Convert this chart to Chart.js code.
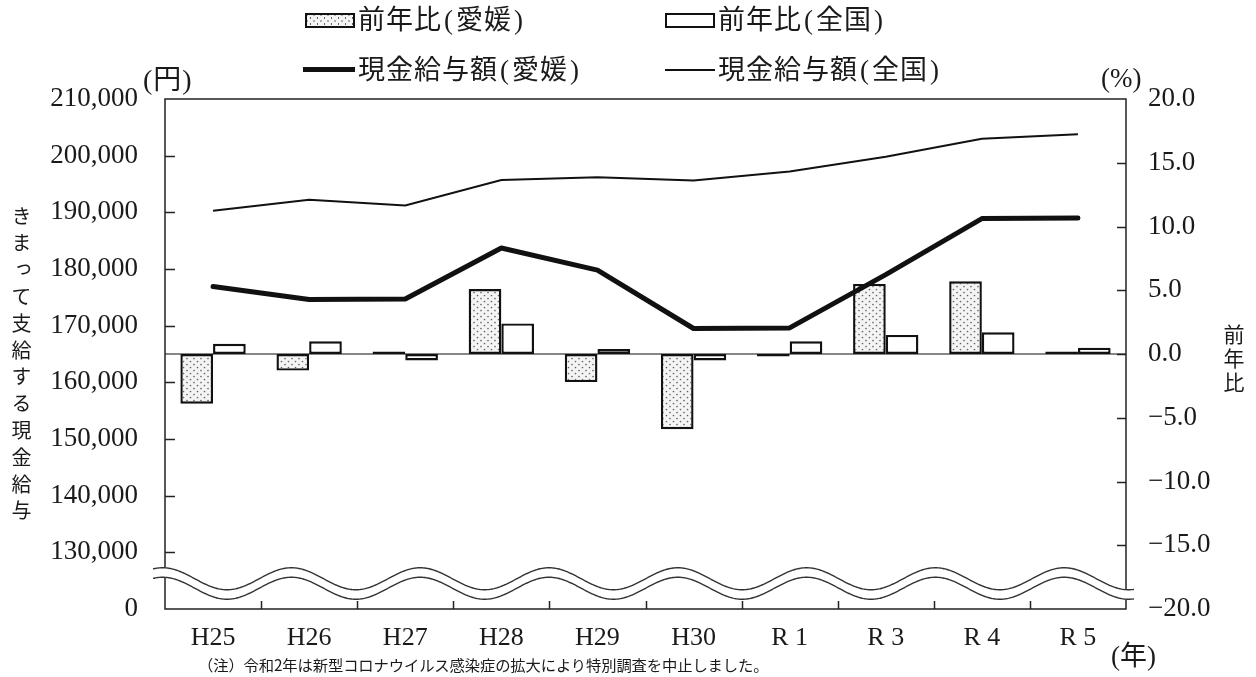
<!DOCTYPE html>
<html lang="ja">
<head>
<meta charset="utf-8">
<title>きまって支給する現金給与と前年比</title>
<script src="https://cdn.jsdelivr.net/npm/chart.js@4/dist/chart.umd.min.js"></script>
<style>
  html, body { margin: 0; padding: 0; background: #fff; }
  #wrap { position: relative; width: 1256px; height: 677px; overflow: hidden; }
  #chart { position: absolute; left: 0; top: 0; }
  .t {
    position: absolute; color: #1a1a1a; white-space: nowrap; line-height: 1;
    font-family: "Liberation Serif", "Noto Sans CJK JP", serif;
  }
  .lg { font-size: 27px; letter-spacing: 1px; }
  .lg .p { padding: 0 2px; }
  .sw { position: absolute; box-sizing: border-box; }
  .sw-dots {
    border: 2.5px solid #111;
    background-color: #f4f4f4;
    background-image: radial-gradient(circle, #666 0.9px, transparent 1.1px),
                      radial-gradient(circle, #666 0.9px, transparent 1.1px);
    background-size: 7px 6px, 7px 6px;
    background-position: 0 0, 3.5px 3px;
  }
  .sw-open { border: 2.5px solid #111; background: #fff; }
  .sw-line { background: #111; }
  .vt {
    position: absolute; writing-mode: vertical-rl; text-orientation: upright;
    font-family: "Noto Sans CJK JP", sans-serif; color: #1a1a1a; line-height: 1;
  }
  .note {
    position: absolute; font-family: "Noto Sans CJK JP", sans-serif; color: #1a1a1a;
    font-size: 15.3px; line-height: 1; white-space: nowrap; letter-spacing: -0.1px;
  }
</style>
</head>
<body>
<div id="wrap">
  <canvas id="chart" width="1256" height="677"></canvas>

  <!-- legend -->
  <div class="sw sw-dots" style="left:305px; top:13px; width:50px; height:15px;"></div>
  <div class="t lg" style="left:358px; top:7px;">前年比<span class="p">(</span>愛媛<span class="p">)</span></div>
  <div class="sw sw-open" style="left:665px; top:13px; width:50px; height:15px;"></div>
  <div class="t lg" style="left:718px; top:7px;">前年比<span class="p">(</span>全国<span class="p">)</span></div>
  <div class="sw sw-line" style="left:303px; top:67px; width:52px; height:5px;"></div>
  <div class="t lg" style="left:358px; top:57px;">現金給与額<span class="p">(</span>愛媛<span class="p">)</span></div>
  <div class="sw sw-line" style="left:665px; top:69px; width:50px; height:2px;"></div>
  <div class="t lg" style="left:718px; top:57px;">現金給与額<span class="p">(</span>全国<span class="p">)</span></div>

  <!-- axis units -->
  <div class="t" style="left:143px; top:66px; font-size:28px; letter-spacing:1px;">(円)</div>
  <div class="t" style="left:1101px; top:65px; font-size:27px;">(%)</div>
  <div class="t" style="left:1111px; top:643px; font-size:27px;">(年)</div>

  <!-- axis titles -->
  <div class="vt" style="left:11px; top:206px; font-size:20px; letter-spacing:6.8px;">きまって支給する現金給与</div>
  <div class="vt" style="left:1223px; top:324px; font-size:21px; letter-spacing:3px;">前年比</div>

  <div class="note" style="left:198px; top:657px;">（注）令和2年は新型コロナウイルス感染症の拡大により特別調査を中止しました。</div>
</div>

<script>
// Survey years (Heisei / Reiwa); R2 was not surveyed
const categories = ['H25', 'H26', 'H27', 'H28', 'H29', 'H30', 'R 1', 'R 3', 'R 4', 'R 5'];

// Regular monthly cash earnings (yen)
const wageEhime    = [176900, 174600, 174700, 183700, 179800, 169500, 169600, 179000, 188900, 189000];
const wageNational = [190300, 192200, 191200, 195700, 196200, 195600, 197200, 199800, 203000, 203800];

// Year-on-year change (%)
const yoyEhime    = [-3.9, -1.3, 0.2, 5.1, -2.2, -5.9, -0.1, 5.5, 5.7, 0.2];
const yoyNational = [0.8, 1.0, -0.5, 2.4, 0.4, -0.5, 1.0, 1.5, 1.7, 0.5];

// Axis ranges and steps
const wageMin = 120000, wageMax = 210000, wageStep = 10000;
const yoyMin = -20, yoyMax = 20, yoyStep = 5;
// the lowest wage gridline is shown as 0 below the axis break
const wageBreakValue = 124500;

const TEXT = '#1a1a1a';
const INK = '#111';
const tickFont = { family: "'Liberation Serif', serif", size: 27 };

function dotPattern() {
  const c = document.createElement('canvas');
  c.width = 7; c.height = 6;
  const g = c.getContext('2d');
  g.fillStyle = '#f4f4f4';
  g.fillRect(0, 0, 7, 6);
  g.fillStyle = '#666';
  g.beginPath(); g.arc(1.5, 1.5, 0.85, 0, Math.PI * 2); g.fill();
  g.beginPath(); g.arc(5.0, 4.5, 0.85, 0, Math.PI * 2); g.fill();
  return g.createPattern(c, 'repeat');
}

const ctx = document.getElementById('chart').getContext('2d');

// frame, inward tick marks, zero line and the wavy axis break
const chartDecor = {
  id: 'chartDecor',
  beforeDatasetsDraw(chart) {
    const { ctx, chartArea: a, scales } = chart;
    const y0 = scales.yR.getPixelForValue(0);
    ctx.save();
    ctx.strokeStyle = INK;
    ctx.lineWidth = 1.2;
    ctx.beginPath();
    ctx.moveTo(a.left, y0);
    ctx.lineTo(a.right, y0);
    ctx.stroke();
    ctx.restore();
  },
  afterDatasetsDraw(chart) {
    const { ctx, chartArea: a, scales } = chart;
    ctx.save();
    ctx.strokeStyle = '#222';
    ctx.lineWidth = 1.5;
    ctx.strokeRect(a.left, a.top, a.right - a.left, a.bottom - a.top);

    ctx.beginPath();
    for (let v = wageMin + wageStep; v < wageMax; v += wageStep) {
      const y = Math.round(scales.yL.getPixelForValue(v)) + 0.5;
      ctx.moveTo(a.left, y); ctx.lineTo(a.left + 10, y);
    }
    for (let v = yoyMin + yoyStep; v < yoyMax; v += yoyStep) {
      const y = Math.round(scales.yR.getPixelForValue(v)) + 0.5;
      ctx.moveTo(a.right - 9, y); ctx.lineTo(a.right, y);
    }
    for (let i = 1; i < categories.length; i++) {
      const x = Math.round((scales.x.getPixelForValue(i - 1) + scales.x.getPixelForValue(i)) / 2) + 0.5;
      ctx.moveTo(x, a.bottom); ctx.lineTo(x, a.bottom - 8);
    }
    ctx.stroke();

    // axis break: two parallel waves with a white band between them
    const mid = scales.yL.getPixelForValue(wageBreakValue);
    const amp = 11, gap = 9.5, period = 128.8;
    const phase = a.left + 62;
    const x0 = a.left - 12, x1 = a.right + 8;
    const wave = (x, off) => mid + off + amp * Math.cos(2 * Math.PI * (x - phase) / period);
    ctx.beginPath();
    for (let x = x0; x <= x1; x += 1) {
      const y = wave(x, -gap / 2);
      x === x0 ? ctx.moveTo(x, y) : ctx.lineTo(x, y);
    }
    for (let x = x1; x >= x0; x -= 1) ctx.lineTo(x, wave(x, gap / 2));
    ctx.closePath();
    ctx.fillStyle = '#fff';
    ctx.fill();
    ctx.strokeStyle = '#333';
    ctx.lineWidth = 1.4;
    [-gap / 2, gap / 2].forEach(off => {
      ctx.beginPath();
      for (let x = x0; x <= x1; x += 1) {
        const y = wave(x, off);
        x === x0 ? ctx.moveTo(x, y) : ctx.lineTo(x, y);
      }
      ctx.stroke();
    });
    ctx.restore();
  }
};

new Chart(ctx, {
  type: 'bar',
  data: {
    labels: categories,
    datasets: [
      {
        type: 'line', label: '現金給与額(愛媛)', data: wageEhime, yAxisID: 'yL',
        borderColor: INK, borderWidth: 5, pointRadius: 0, tension: 0, order: 0,
        borderCapStyle: 'round', borderJoinStyle: 'round'
      },
      {
        type: 'line', label: '現金給与額(全国)', data: wageNational, yAxisID: 'yL',
        borderColor: INK, borderWidth: 2, pointRadius: 0, tension: 0, order: 0
      },
      {
        label: '前年比(愛媛)', data: yoyEhime, yAxisID: 'yR',
        backgroundColor: dotPattern(), borderColor: INK, borderWidth: 2.4, borderSkipped: false,
        barPercentage: 1, categoryPercentage: 0.68, minBarLength: 2.5, order: 1
      },
      {
        label: '前年比(全国)', data: yoyNational, yAxisID: 'yR',
        backgroundColor: '#fff', borderColor: INK, borderWidth: 2.4, borderSkipped: false,
        barPercentage: 1, categoryPercentage: 0.68, minBarLength: 2.5, order: 1
      }
    ]
  },
  options: {
    responsive: false,
    animation: false,
    devicePixelRatio: 1,
    layout: { padding: { top: 99, left: 0, right: 0, bottom: 0 } },
    plugins: { legend: { display: false }, tooltip: { enabled: false } },
    scales: {
      x: {
        grid: { display: false, drawTicks: false },
        border: { display: false },
        ticks: { font: { family: "'Liberation Serif', serif", size: 26 }, color: TEXT, padding: 14, maxRotation: 0, autoSkip: false },
        afterFit(s) { s.height = 68; }
      },
      yL: {
        position: 'left', min: wageMin, max: wageMax,
        grid: { display: false, drawTicks: false },
        border: { display: false },
        ticks: {
          stepSize: wageStep, padding: 27, color: TEXT, font: tickFont,
          callback: v => v === wageMin ? '0' : Number(v).toLocaleString('en-US')
        },
        afterFit(s) { s.width = 165; }
      },
      yR: {
        position: 'right', min: yoyMin, max: yoyMax,
        grid: { display: false, drawTicks: false },
        border: { display: false },
        ticks: {
          stepSize: yoyStep, padding: 22, color: TEXT, font: tickFont,
          callback: v => (v < 0 ? '\u2212' : '') + Math.abs(v).toFixed(1)
        },
        afterFit(s) { s.width = 130; }
      }
    }
  },
  plugins: [chartDecor]
});
</script>
</body>
</html>
